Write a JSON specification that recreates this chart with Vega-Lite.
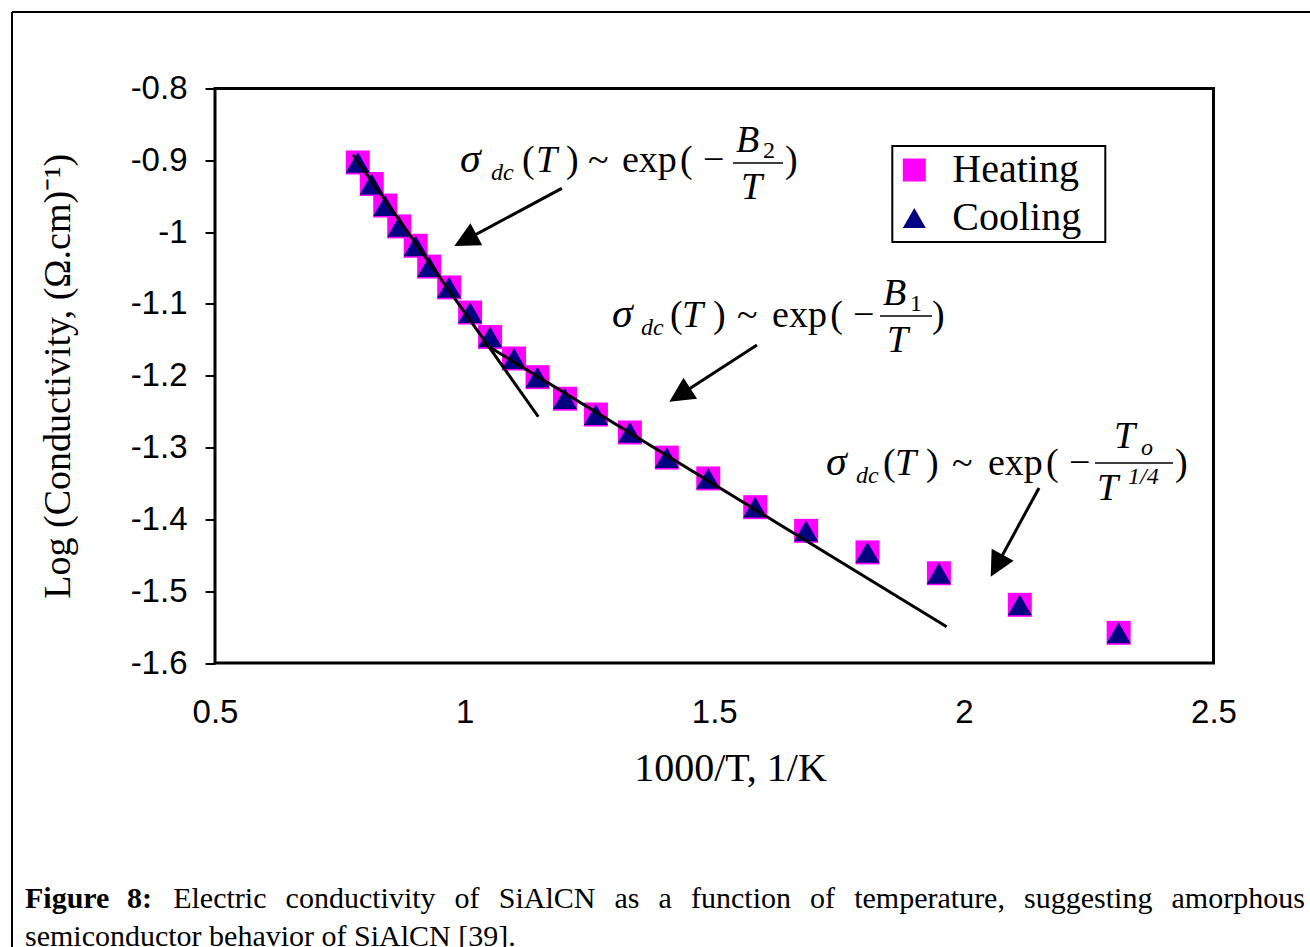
{
  "$schema": "https://vega.github.io/schema/vega-lite/v6.json",
  "width": 998.5,
  "height": 574.5,
  "autosize": {"type": "none"},
  "padding": {"left": 215, "top": 88.5, "right": 96.5, "bottom": 284},
  "background": "white",
  "config": {
    "view": {"stroke": "black", "strokeWidth": 3},
    "axis": {"grid": false, "domain": false}
  },
  "datasets": {
    "pts": [
      {"series": "Heating", "x": 0.786, "y": -0.903}, {"series": "Heating", "x": 0.814, "y": -0.933},
      {"series": "Heating", "x": 0.841, "y": -0.963}, {"series": "Heating", "x": 0.869, "y": -0.992},
      {"series": "Heating", "x": 0.902, "y": -1.019}, {"series": "Heating", "x": 0.929, "y": -1.048},
      {"series": "Heating", "x": 0.969, "y": -1.077}, {"series": "Heating", "x": 1.011, "y": -1.112},
      {"series": "Heating", "x": 1.051, "y": -1.146}, {"series": "Heating", "x": 1.099, "y": -1.176},
      {"series": "Heating", "x": 1.146, "y": -1.202}, {"series": "Heating", "x": 1.201, "y": -1.232},
      {"series": "Heating", "x": 1.263, "y": -1.254}, {"series": "Heating", "x": 1.331, "y": -1.279},
      {"series": "Heating", "x": 1.405, "y": -1.314}, {"series": "Heating", "x": 1.488, "y": -1.343},
      {"series": "Heating", "x": 1.582, "y": -1.383}, {"series": "Heating", "x": 1.684, "y": -1.416},
      {"series": "Heating", "x": 1.807, "y": -1.446}, {"series": "Heating", "x": 1.950, "y": -1.475},
      {"series": "Heating", "x": 2.112, "y": -1.519}, {"series": "Heating", "x": 2.310, "y": -1.558},
      {"series": "Cooling", "x": 0.786, "y": -0.903}, {"series": "Cooling", "x": 0.814, "y": -0.933},
      {"series": "Cooling", "x": 0.841, "y": -0.963}, {"series": "Cooling", "x": 0.869, "y": -0.992},
      {"series": "Cooling", "x": 0.902, "y": -1.019}, {"series": "Cooling", "x": 0.929, "y": -1.048},
      {"series": "Cooling", "x": 0.969, "y": -1.077}, {"series": "Cooling", "x": 1.011, "y": -1.112},
      {"series": "Cooling", "x": 1.051, "y": -1.146}, {"series": "Cooling", "x": 1.099, "y": -1.176},
      {"series": "Cooling", "x": 1.146, "y": -1.202}, {"series": "Cooling", "x": 1.201, "y": -1.232},
      {"series": "Cooling", "x": 1.263, "y": -1.254}, {"series": "Cooling", "x": 1.331, "y": -1.279},
      {"series": "Cooling", "x": 1.405, "y": -1.314}, {"series": "Cooling", "x": 1.488, "y": -1.343},
      {"series": "Cooling", "x": 1.582, "y": -1.383}, {"series": "Cooling", "x": 1.684, "y": -1.416},
      {"series": "Cooling", "x": 1.807, "y": -1.446}, {"series": "Cooling", "x": 1.950, "y": -1.475},
      {"series": "Cooling", "x": 2.112, "y": -1.519}, {"series": "Cooling", "x": 2.310, "y": -1.558}
    ],
    "segs": [
      {"name": "fit B2", "x": 0.777, "y": -0.8926, "x2": 1.1476, "y2": -1.2571},
      {"name": "fit B1", "x": 1.0368, "y": -1.1544, "x2": 1.9656, "y2": -1.5495},
      {"name": "arrow 1", "x": 1.1946, "y": -0.9390, "x2": 1.0014, "y2": -1.0111},
      {"name": "arrow 2", "x": 1.5856, "y": -1.1572, "x2": 1.431, "y2": -1.2267},
      {"name": "arrow 3", "x": 2.1505, "y": -1.3563, "x2": 2.0657, "y2": -1.4645}
    ],
    "heads": [
      {"id": 1, "x": 1.0014, "y": -1.0111},
      {"id": 2, "x": 1.431, "y": -1.2267},
      {"id": 3, "x": 2.0657, "y": -1.4645}
    ],
    "bars": [
      {"x": 1.5376, "x2": 1.6377, "y": -0.9037},
      {"x": 1.8320, "x2": 1.9362, "y": -1.1168},
      {"x": 2.2626, "x2": 2.4189, "y": -1.3215}
    ],
    "eqUpright": [
      {"t": "(", "x": 1.1149, "y": -0.9163}, {"t": ")", "x": 1.2031, "y": -0.9163},
      {"t": "~", "x": 1.2471, "y": -0.9163}, {"t": "exp", "x": 1.3152, "y": -0.9163},
      {"t": "(", "x": 1.4314, "y": -0.9163},
      {"t": "−", "x": 1.4775, "y": -0.9163}, {"t": ")", "x": 1.6417, "y": -0.9163},
      {"t": "(", "x": 1.4114, "y": -1.1321}, {"t": ")", "x": 1.4975, "y": -1.1321},
      {"t": "~", "x": 1.5456, "y": -1.1321}, {"t": "exp", "x": 1.6157, "y": -1.1321},
      {"t": "(", "x": 1.7324, "y": -1.1321},
      {"t": "−", "x": 1.7779, "y": -1.1321}, {"t": ")", "x": 1.9362, "y": -1.1321},
      {"t": "(", "x": 1.8380, "y": -1.3382}, {"t": ")", "x": 1.9241, "y": -1.3382},
      {"t": "~", "x": 1.9762, "y": -1.3382}, {"t": "exp", "x": 2.0483, "y": -1.3382},
      {"t": "(", "x": 2.1645, "y": -1.3382},
      {"t": "−", "x": 2.2105, "y": -1.3382}, {"t": ")", "x": 2.4229, "y": -1.3382}
    ],
    "eqSigma": [
      {"t": "σ", "x": 0.9907, "y": -0.9163},
      {"t": "σ", "x": 1.2952, "y": -1.1321},
      {"t": "σ", "x": 1.7238, "y": -1.3382}
    ],
    "eqItalic": [
      {"t": "T", "x": 1.1430, "y": -0.9163},
      {"t": "B", "x": 1.5436, "y": -0.8884}, {"t": "T", "x": 1.5537, "y": -0.9539},
      {"t": "T", "x": 1.4354, "y": -1.1321},
      {"t": "B", "x": 1.8380, "y": -1.1015}, {"t": "T", "x": 1.8460, "y": -1.1669},
      {"t": "T", "x": 1.8620, "y": -1.3382},
      {"t": "T", "x": 2.3007, "y": -1.3006}, {"t": "T", "x": 2.2666, "y": -1.3730}
    ],
    "eqSubItalic": [
      {"t": "dc", "x": 1.0528, "y": -0.9274},
      {"t": "dc", "x": 1.3533, "y": -1.1433},
      {"t": "dc", "x": 1.7839, "y": -1.3494},
      {"t": "o", "x": 2.3548, "y": -1.3104},
      {"t": "1/4", "x": 2.3287, "y": -1.3508}
    ],
    "eqSubUpright": [
      {"t": "2", "x": 1.5977, "y": -0.8968},
      {"t": "1", "x": 1.8921, "y": -1.1098}
    ],
    "capBold": [
      {"t": "Figure", "x": 0.1194, "y": -1.9412},
      {"t": "8:", "x": 0.3239, "y": -1.9412}
    ],
    "capText": [
      {"t": "Electric", "x": 0.4163, "y": -1.9412},
      {"t": "conductivity", "x": 0.6414, "y": -1.9412},
      {"t": "of", "x": 0.9799, "y": -1.9412},
      {"t": "SiAlCN", "x": 1.0683, "y": -1.9412},
      {"t": "as", "x": 1.3002, "y": -1.9412},
      {"t": "a", "x": 1.3885, "y": -1.9412},
      {"t": "function", "x": 1.4534, "y": -1.9412},
      {"t": "of", "x": 1.6920, "y": -1.9412},
      {"t": "temperature,", "x": 1.7803, "y": -1.9412},
      {"t": "suggesting", "x": 2.1206, "y": -1.9412},
      {"t": "amorphous", "x": 2.4159, "y": -1.9412},
      {"t": "semiconductor behavior of SiAlCN [39].", "x": 0.1194, "y": -1.9941}
    ],
    "border": [
      {"x": 0.0934, "x2": 2.7133, "y": -0.6935, "y2": -0.6935},
      {"x": 0.0934, "x2": 0.0934, "y": -0.6935, "y2": -2.0136}
    ]
  },
  "encoding": {
    "x": {
      "field": "x", "type": "quantitative",
      "scale": {"domain": [0.5, 2.5], "nice": false, "zero": false},
      "axis": {
        "title": "1000/T, 1/K", "values": [0.5, 1, 1.5, 2, 2.5], "labelExpr": "'' + datum.value",
        "ticks": false, "labelPadding": 33, "labelFlush": false, "labelOverlap": false,
        "labelFont": "Liberation Sans", "labelFontSize": 33, "labelColor": "black",
        "titleFont": "Liberation Serif", "titleFontSize": 40, "titleFontWeight": "normal",
        "titleColor": "black", "titlePadding": 19, "titleX": 515
      }
    },
    "y": {
      "field": "y", "type": "quantitative",
      "scale": {"domain": [-1.6, -0.8], "nice": false, "zero": false},
      "axis": {
        "title": "Log (Conductivity, (Ω.cm)⁻¹)",
        "values": [-0.8, -0.9, -1, -1.1, -1.2, -1.3, -1.4, -1.5, -1.6],
        "labelExpr": "'' + datum.value",
        "tickSize": 10, "tickWidth": 2, "tickColor": "black", "labelPadding": 18,
        "labelOverlap": false, "labelFlush": false,
        "labelFont": "Liberation Sans", "labelFontSize": 33, "labelColor": "black",
        "titleFont": "Liberation Serif", "titleFontSize": 38, "titleFontWeight": "normal",
        "titleColor": "black", "titlePadding": 53
      }
    }
  },
  "layer": [
    {
      "data": {"name": "border"},
      "mark": {"type": "rule", "color": "black", "strokeWidth": 2},
      "encoding": {"x2": {"field": "x2"}, "y2": {"field": "y2"}}
    },
    {
      "data": {"name": "pts"},
      "mark": {"type": "point", "filled": true, "opacity": 1, "size": 576, "strokeWidth": 0},
      "encoding": {
        "color": {
          "field": "series", "type": "nominal",
          "scale": {"domain": ["Heating", "Cooling"], "range": ["#FF00FF", "#000080"]},
          "legend": {
            "orient": "none", "legendX": 677.3, "legendY": 57.5, "title": null,
            "strokeColor": "black", "fillColor": "white", "padding": 4, "rowPadding": 8,
            "labelFont": "Liberation Serif", "labelFontSize": 40, "labelColor": "black",
            "labelOffset": 18, "symbolOffset": -2, "symbolSize": 529, "symbolStrokeWidth": 0, "symbolOpacity": 1,
            "labelLimit": 400, "labelExpr": "datum.label + '\u2002\u200b'",
            "encode": {"legend": {"update": {"strokeWidth": {"value": 2}}}}
          }
        },
        "shape": {
          "field": "series", "type": "nominal",
          "scale": {"domain": ["Heating", "Cooling"], "range": ["square", "triangle-up"]},
          "legend": {
            "orient": "none", "legendX": 677.3, "legendY": 57.5, "title": null,
            "strokeColor": "black", "fillColor": "white", "padding": 4, "rowPadding": 8,
            "labelFont": "Liberation Serif", "labelFontSize": 40, "labelColor": "black",
            "labelOffset": 18, "symbolOffset": -2, "symbolSize": 529, "symbolStrokeWidth": 0, "symbolOpacity": 1,
            "labelLimit": 400, "labelExpr": "datum.label + '\u2002\u200b'",
            "encode": {"legend": {"update": {"strokeWidth": {"value": 2}}}}
          }
        }
      }
    },
    {
      "data": {"name": "segs"},
      "mark": {"type": "rule", "color": "black", "strokeWidth": 3},
      "encoding": {"x2": {"field": "x2"}, "y2": {"field": "y2"}}
    },
    {
      "data": {"name": "heads"},
      "transform": [{"filter": "datum.id == 1"}],
      "mark": {"type": "point", "shape": "M0,-1L-1,1L1,1Z", "filled": true, "color": "black", "opacity": 1, "size": 625, "angle": 241.8}
    },
    {
      "data": {"name": "heads"},
      "transform": [{"filter": "datum.id == 2"}],
      "mark": {"type": "point", "shape": "M0,-1L-1,1L1,1Z", "filled": true, "color": "black", "opacity": 1, "size": 625, "angle": 237.1}
    },
    {
      "data": {"name": "heads"},
      "transform": [{"filter": "datum.id == 3"}],
      "mark": {"type": "point", "shape": "M0,-1L-1,1L1,1Z", "filled": true, "color": "black", "opacity": 1, "size": 625, "angle": 208.5}
    },
    {
      "data": {"name": "bars"},
      "mark": {"type": "rule", "color": "black", "strokeWidth": 1.5},
      "encoding": {"x2": {"field": "x2"}}
    },
    {
      "data": {"name": "eqUpright"},
      "mark": {"type": "text", "font": "Liberation Serif", "fontSize": 38, "align": "left", "baseline": "alphabetic", "color": "black"},
      "encoding": {"text": {"field": "t"}}
    },
    {
      "data": {"name": "eqSigma"},
      "mark": {"type": "text", "font": "Liberation Serif", "fontStyle": "italic", "fontSize": 42, "align": "left", "baseline": "alphabetic", "color": "black"},
      "encoding": {"text": {"field": "t"}}
    },
    {
      "data": {"name": "eqItalic"},
      "mark": {"type": "text", "font": "Liberation Serif", "fontStyle": "italic", "fontSize": 38, "align": "left", "baseline": "alphabetic", "color": "black"},
      "encoding": {"text": {"field": "t"}}
    },
    {
      "data": {"name": "eqSubItalic"},
      "mark": {"type": "text", "font": "Liberation Serif", "fontStyle": "italic", "fontSize": 24, "align": "left", "baseline": "alphabetic", "color": "black"},
      "encoding": {"text": {"field": "t"}}
    },
    {
      "data": {"name": "eqSubUpright"},
      "mark": {"type": "text", "font": "Liberation Serif", "fontSize": 24, "align": "left", "baseline": "alphabetic", "color": "black"},
      "encoding": {"text": {"field": "t"}}
    },
    {
      "data": {"name": "capBold"},
      "mark": {"type": "text", "font": "Liberation Serif", "fontWeight": "bold", "fontSize": 30, "align": "left", "baseline": "alphabetic", "color": "black"},
      "encoding": {"text": {"field": "t"}}
    },
    {
      "data": {"name": "capText"},
      "mark": {"type": "text", "font": "Liberation Serif", "fontSize": 30, "align": "left", "baseline": "alphabetic", "color": "black"},
      "encoding": {"text": {"field": "t"}}
    }
  ]
}
